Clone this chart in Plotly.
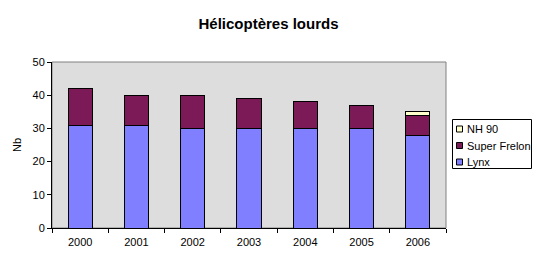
import plotly.graph_objects as go

years = ["2000", "2001", "2002", "2003", "2004", "2005", "2006"]
lynx = [31, 31, 30, 30, 30, 30, 28]
super_frelon = [11, 9, 10, 9, 8, 7, 6]
nh90 = [0, 0, 0, 0, 0, 0, 1]

series = [("Lynx", lynx, "#7F7FFF"),
          ("Super Frelon", super_frelon, "#7B1A57"),
          ("NH 90", nh90, "#FFFFCC")]

font = "Liberation Sans, Arial, sans-serif"
W, H = 537, 266
L, R, T, B = 52, 446, 62, 228

def px(x):
    return (x - L) / (R - L)

def py(y):
    return (B - y) / (B - T)

fig = go.Figure()
for name, vals, col in series:
    fig.add_trace(go.Bar(x=years, y=vals, name=name, showlegend=False,
                         marker=dict(color=col, line=dict(color="black", width=1))))

fig.update_layout(
    width=W, height=H,
    margin=dict(l=L, r=W - R, t=T, b=H - B, autoexpand=False),
    barmode="stack", bargap=0.57,
    paper_bgcolor="white", plot_bgcolor="#DDDDDD",
    font=dict(family=font, size=11, color="black"),
    title=dict(text="<b>Hélicoptères lourds</b>", x=0.5, xanchor="center",
               y=1 - 24 / H, yanchor="middle",
               font=dict(family=font, size=15, color="black")),
    showlegend=False,
)
fig.update_xaxes(showline=True, linecolor="black", linewidth=1,
                 ticks="outside", ticklen=4, tickcolor="black",
                 tickson="boundaries", showgrid=False, ticklabelstandoff=4)
fig.update_yaxes(range=[0, 50], dtick=10, showline=True, linecolor="black", linewidth=1,
                 ticks="outside", ticklen=4, tickcolor="black", showgrid=False,
                 title=dict(text="Nb", standoff=8, font=dict(size=11)), zeroline=False)
fig.add_shape(type="rect", xref="paper", yref="paper", x0=0, x1=1, y0=0, y1=1,
              line=dict(color="#808080", width=1), layer="below")

# manual legend (Excel style)
fig.add_shape(type="rect", xref="paper", yref="paper",
              x0=px(452.5), x1=px(531.5), y0=py(168.5), y1=py(119.5),
              line=dict(color="black", width=1), fillcolor="white")
ys = {"NH 90": 129, "Super Frelon": 145.5, "Lynx": 162}
for name, vals, col in series:
    yc = ys[name]
    fig.add_shape(type="rect", xref="paper", yref="paper",
                  x0=px(456.5), x1=px(462.5), y0=py(yc + 3), y1=py(yc - 3),
                  line=dict(color="black", width=1), fillcolor=col)
    fig.add_annotation(text=name, xref="paper", yref="paper", x=px(465), y=py(yc),
                       xanchor="left", yanchor="middle", showarrow=False,
                       font=dict(family=font, size=11, color="black"))

fig.write_html("out.html")
